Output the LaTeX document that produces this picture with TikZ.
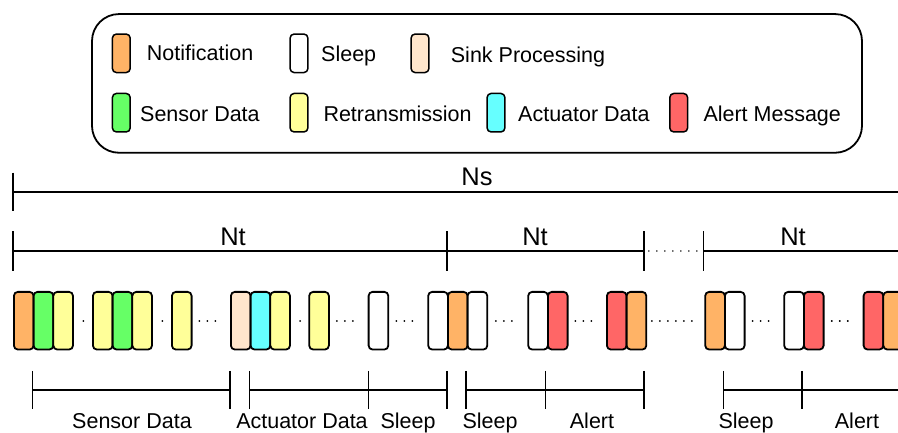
\documentclass[tikz,border=0pt]{standalone}
\usepackage{fontspec}
\setmainfont{Liberation Sans}
\definecolor{notifc}{HTML}{FFB366}
\definecolor{sensorc}{HTML}{66FF66}
\definecolor{retxc}{HTML}{FFFF99}
\definecolor{sinkc}{HTML}{FFE6CC}
\definecolor{actc}{HTML}{66FFFF}
\definecolor{alertc}{HTML}{FF6666}

\begin{document}
\begin{tikzpicture}[x=1pt, y=-1pt,
    slot/.style={draw, line width=1.8pt, rounded corners=4pt, minimum width=19.7pt, minimum height=57.7pt, inner sep=0pt, anchor=west},
    key/.style={draw, line width=1.5pt, rounded corners=4pt, minimum width=17.8pt, minimum height=38.5pt, inner sep=0pt},
    keytext/.style={anchor=base west, inner sep=0pt, font=\fontsize{21.5}{24}\selectfont},
    lbl/.style={anchor=base, inner sep=0pt, font=\fontsize{21.5}{24}\selectfont},
    biglbl/.style={anchor=base, inner sep=0pt, font=\fontsize{25.5}{28}\selectfont},
    ruler/.style={line width=1.6pt},
    dotgap/.style={line width=1.9pt, line cap=round, dash pattern=on 0.1pt off 7.9pt, shorten <=#1, shorten >=#1}]
    \useasboundingbox (0,0) rectangle (898,432);

    \node[draw, line width=1.8pt, rounded corners=27pt, minimum width=770pt, minimum height=138.7pt] (legend) at (477,83.4) {};

    \node[key, fill=notifc] (knotif) at (121.3,53.3) {};
    \node[key, fill=white] (ksleep) at (299,53.3) {};
    \node[key, fill=sinkc] (ksink) at (420,53.3) {};
    \node[key, fill=sensorc] (ksensor) at (121.3,112.7) {};
    \node[key, fill=retxc] (kretx) at (299,112.7) {};
    \node[key, fill=actc] (kact) at (496,112.7) {};
    \node[key, fill=alertc] (kalert) at (678.7,112.7) {};

    \node[keytext] (tnotif) at (146.7,60.7) {Notification};
    \node[keytext] (tsleep) at (321,61.5) {Sleep};
    \node[keytext] (tsink) at (450.7,62.7) {Sink Processing};
    \node[keytext] (tsensor) at (140,121.7) {Sensor Data};
    \node[keytext] (tretx) at (323.3,121.7) {Retransmission};
    \node[keytext] (tact) at (518,121.7) {Actuator Data};
    \node[keytext] (talert) at (703.3,121.7) {Alert Message};

    \coordinate (ns0) at (13,191.7);
    \coordinate (ns1) at (898,191.7);
    \draw[ruler, line width=2pt] (ns0) -- (ns1);
    \draw[ruler] (ns0) ++(0,-19) -- ++(0,38);
    \node[biglbl] (ns) at (477,185.5) {Ns};

    \foreach \n/\x in {t0/13, t1/447, t2/644, t3/703.3, t4/898}
        \coordinate (\n) at (\x,251);
    \draw[ruler, line width=1.3pt] (t0) -- (t2);
    \draw[ruler, line width=1.3pt] (t3) -- (t4);
    \foreach \n in {t0,t1,t2,t3}
        \draw[ruler] (\n) ++(0,-19.7) -- ++(0,39.4);
    \draw[dotgap=4.8, line width=1.2pt] (t2) -- (t3);
    \node[biglbl] (nt1) at (233,245) {Nt};
    \node[biglbl] (nt2) at (535,245) {Nt};
    \node[biglbl] (nt3) at (793,245) {Nt};

    \foreach \x/\c [count=\i] in {13/notifc, 32.7/sensorc, 52.4/retxc,
        92/retxc, 111.7/sensorc, 131.4/retxc, 171/retxc,
        230/sinkc, 249.7/actc, 269.4/retxc, 308.3/retxc, 367.7/white,
        427.3/white, 447/notifc, 466.7/white, 527.3/white, 547/alertc,
        606/alertc, 625.7/notifc, 704.3/notifc, 724/white, 783.3/white,
        803/alertc, 862.7/alertc, 882.4/notifc}
        \node[slot, fill=\c] (b\i) at (\x,320.7) {};

    \draw[dotgap=9.6] (b3.east) -- (b4.west);
    \draw[dotgap=9.6] (b6.east) -- (b7.west);
    \draw[dotgap=6.9] (b7.east) -- (b8.west);
    \draw[dotgap=9.3] (b10.east) -- (b11.west);
    \draw[dotgap=7.1] (b11.east) -- (b12.west);
    \draw[dotgap=7.2] (b12.east) -- (b13.west);
    \draw[dotgap=7.7] (b15.east) -- (b16.west);
    \draw[dotgap=6.9] (b17.east) -- (b18.west);
    \draw[dotgap=4.7] (b19.east) -- (b20.west);
    \draw[dotgap=7.0] (b21.east) -- (b22.west);
    \draw[dotgap=7.2] (b23.east) -- (b24.west);

    \foreach \n/\x in {p0/32.3, p1/230, p2/249.3, p3/368.3, p4/446.7, p5/466,
        p6/545.3, p7/644, p8/723.3, p9/801.7, pend/898}
        \coordinate (\n) at (\x,390);
    \draw[ruler] (p0) -- (p1);
    \draw[ruler] (p2) -- (p4);
    \draw[ruler] (p5) -- (p7);
    \draw[ruler] (p8) -- (pend);
    \foreach \n in {p0,p1,p2,p3,p4,p5,p6,p7,p8,p9}
        \draw[ruler] (\n) ++(0,-19.2) -- ++(0,38.4);

    \node[lbl] (lsensor) at (132,428) {Sensor Data};
    \node[lbl] (lact) at (302,428) {Actuator Data};
    \node[lbl] (lsleep1) at (408,428) {Sleep};
    \node[lbl] (lsleep2) at (490,428) {Sleep};
    \node[lbl] (lalert1) at (592,428) {Alert};
    \node[lbl] (lsleep3) at (746,428) {Sleep};
    \node[lbl] (lalert2) at (857,428) {Alert};
\end{tikzpicture}
\end{document}
